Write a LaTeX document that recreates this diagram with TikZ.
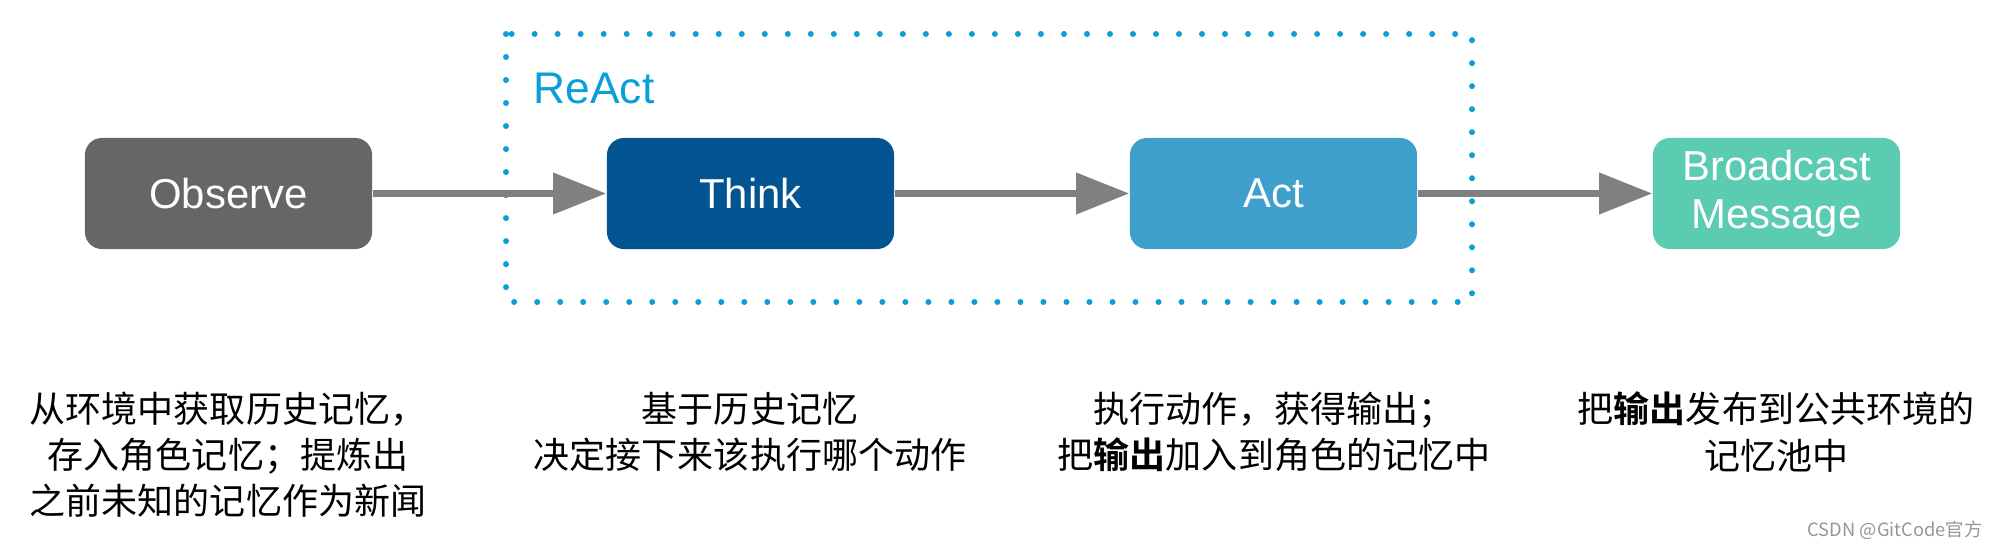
\documentclass[tikz,border=0pt]{standalone}
\usepackage{fontspec}
\setmainfont{Liberation Sans}
\newfontfamily\cjk{Noto Sans CJK SC}[BoldFont={Noto Sans CJK SC Bold}]
\usetikzlibrary{arrows.meta}
\definecolor{obsC}{RGB}{102,102,102}
\definecolor{thinkC}{RGB}{3,85,145}
\definecolor{actC}{RGB}{64,160,204}
\definecolor{bcC}{RGB}{91,203,177}
\definecolor{reactC}{RGB}{10,159,216}
\definecolor{arrC}{RGB}{128,128,128}
\definecolor{wmC}{RGB}{150,150,150}
\tikzset{
  box/.style={rounded corners=0.17cm, minimum height=1.11cm, inner sep=0pt,
    text=white, font=\fontsize{11.9pt}{13.6pt}\selectfont, align=center},
  flow/.style={draw=arrC, line width=0.07cm, -{Triangle[length=0.53cm,width=0.40cm]}},
  desc/.style={font=\cjk\fontsize{10.24pt}{13.1pt}\selectfont, align=center, inner sep=0pt},
  frame/.style={draw=reactC, line width=0.06cm, line cap=round, dash pattern=on 0pt off 0.23cm}
}
\begin{document}
\begin{tikzpicture}[x=0.01cm,y=-0.01cm]
\useasboundingbox (0,0) rectangle (2000,558);
\node[box, fill=obsC, minimum width=2.87cm] (obs) at (228.5,193.5) {Observe};
\node[box, fill=thinkC, minimum width=2.87cm] (think) at (750.5,193.5) {Think};
\node[box, fill=actC, minimum width=2.87cm] (act) at (1273.5,193.5) {Act};
\node[box, fill=bcC, minimum width=2.47cm] (bc) at (1776.5,193.5) {Broadcast\\Message};
\coordinate (f1) at (506,34);
\coordinate (f2) at (1472,302);
\draw[frame] (f1) rectangle (f2);
\node[anchor=base west, inner sep=0pt, text=reactC, font=\fontsize{12.6pt}{14pt}\selectfont] (react) at (533,104) {ReAct};
\draw[flow] (obs.east) -- (think.west);
\draw[flow] (think.east) -- (act.west);
\draw[flow] (act.east) -- (bc.west);
\node[desc] (d1) at (228,455) {从环境中获取历史记忆，\\存入角色记忆；提炼出\\之前未知的记忆作为新闻};
\node[desc] (d2) at (750,432) {基于历史记忆\\决定接下来该执行哪个动作};
\node[desc] (d3) at (1274,432) {执行动作，获得输出；\\把\textbf{输出}加入到角色的记忆中};
\node[desc] (d4) at (1776,432) {把\textbf{输出}发布到公共环境的\\记忆池中};
\node[anchor=base east, inner sep=0pt, text=wmC, font=\cjk\fontsize{5.2pt}{6pt}\selectfont] (wm) at (1983,537) {CSDN @GitCode官方};
\end{tikzpicture}
\end{document}
